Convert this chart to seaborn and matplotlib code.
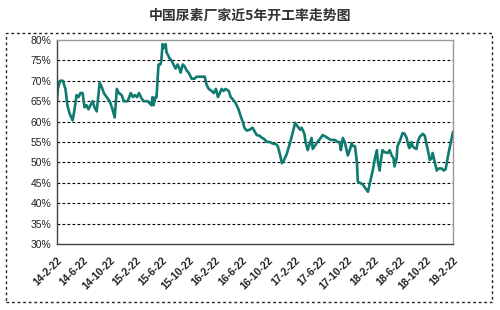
import matplotlib
matplotlib.use("Agg")
import matplotlib.pyplot as plt
import matplotlib.dates as mdates
from matplotlib.patches import Rectangle
from matplotlib.ticker import FixedLocator
import seaborn as sns
import pandas as pd

title = "中国尿素厂家近5年开工率走势图"

dates = [
    "2014-02-22", "2014-02-26", "2014-03-08", "2014-03-21", "2014-03-24", "2014-04-02", "2014-04-11",
    "2014-04-21", "2014-05-05", "2014-05-14", "2014-05-23", "2014-06-01", "2014-06-10", "2014-06-20",
    "2014-06-29", "2014-07-08", "2014-07-17", "2014-07-26", "2014-08-05", "2014-08-14", "2014-08-24",
    "2014-09-02", "2014-09-07", "2014-09-16", "2014-09-26", "2014-10-09", "2014-10-23", "2014-11-05",
    "2014-11-15", "2014-11-25", "2014-12-04", "2014-12-17", "2014-12-27", "2015-01-14", "2015-01-28",
    "2015-02-07", "2015-02-16", "2015-02-26", "2015-03-07", "2015-03-16", "2015-03-27", "2015-04-15",
    "2015-04-25", "2015-05-04", "2015-05-08", "2015-05-13", "2015-05-22", "2015-05-27", "2015-06-05",
    "2015-06-14", "2015-06-18", "2015-06-24", "2015-06-28", "2015-07-03", "2015-07-08", "2015-07-12",
    "2015-07-17", "2015-07-26", "2015-08-04", "2015-08-13", "2015-08-23", "2015-09-01", "2015-09-10",
    "2015-09-15", "2015-09-25", "2015-10-04", "2015-10-13", "2015-10-22", "2015-11-05", "2015-11-18",
    "2015-11-28", "2015-12-17", "2016-01-04", "2016-01-13", "2016-01-23", "2016-02-05", "2016-02-15",
    "2016-02-25", "2016-03-05", "2016-03-14", "2016-03-22", "2016-03-31", "2016-04-09", "2016-04-24",
    "2016-05-03", "2016-05-12", "2016-05-26", "2016-06-08", "2016-06-17", "2016-06-27", "2016-07-06",
    "2016-07-16", "2016-07-29", "2016-08-12", "2016-08-22", "2016-08-31", "2016-09-14", "2016-09-24",
    "2016-10-03", "2016-10-17", "2016-10-30", "2016-11-13", "2016-11-27", "2016-12-06", "2016-12-16",
    "2016-12-25", "2017-01-03", "2017-01-16", "2017-01-31", "2017-02-14", "2017-02-24", "2017-03-05",
    "2017-03-19", "2017-03-26", "2017-04-08", "2017-04-13", "2017-04-23", "2017-05-02", "2017-05-11",
    "2017-05-16", "2017-05-25", "2017-06-07", "2017-06-22", "2017-07-01", "2017-07-15", "2017-07-24",
    "2017-08-07", "2017-08-26", "2017-09-08", "2017-09-17", "2017-09-23", "2017-10-02", "2017-10-11",
    "2017-10-25", "2017-11-03", "2017-11-12", "2017-11-16", "2017-11-27", "2017-12-06", "2017-12-10",
    "2017-12-19", "2018-01-02", "2018-01-16", "2018-01-26", "2018-02-04", "2018-02-17", "2018-02-27",
    "2018-03-08", "2018-03-13", "2018-03-21", "2018-03-25", "2018-04-03", "2018-04-12", "2018-04-27",
    "2018-05-06", "2018-05-15", "2018-05-24", "2018-05-28", "2018-06-07", "2018-06-11", "2018-06-20",
    "2018-07-05", "2018-07-14", "2018-07-23", "2018-08-01", "2018-08-05", "2018-08-15", "2018-08-19",
    "2018-08-29", "2018-09-07", "2018-09-12", "2018-09-22", "2018-10-06", "2018-10-15", "2018-10-24",
    "2018-11-02", "2018-11-07", "2018-11-16", "2018-11-20", "2018-11-30", "2018-12-09", "2018-12-18",
    "2019-01-01", "2019-01-10", "2019-01-19", "2019-01-29", "2019-02-12", "2019-02-22",
]

rates = [
    65, 68, 70, 70, 69.5, 68, 64,
    62, 60.3, 63, 66.5, 66, 67, 67,
    63.5, 64, 63, 64, 65, 63.5, 62.5,
    67, 69.5, 68.5, 67, 66, 65, 63,
    61, 68, 67, 66.5, 65, 65, 67,
    66, 66.5, 66, 67, 66, 65, 65,
    64.5, 64, 66, 64, 66, 66, 74,
    74, 75, 79, 78, 78.5, 79, 77,
    76.5, 75.5, 75, 74, 73, 74, 73,
    72, 74, 73.5, 72.5, 72, 70.5, 70.5,
    71, 71, 71, 69, 68, 67.5, 67,
    68, 66, 67, 68, 67.5, 68, 67.5,
    66, 65.5, 64.5, 63, 61.5, 60, 58.4,
    57.8, 58, 58.5, 57.5, 56.7, 56.5, 56,
    55.8, 55, 55, 54.6, 54.5, 54, 52,
    49.8, 50.5, 52, 54.7, 57.5, 59.7, 59,
    58, 58.5, 57, 55, 53, 54.5, 56,
    53.3, 54, 55, 56, 56.7, 56.3, 56,
    55.5, 55.5, 55, 55, 53, 56, 55,
    51.7, 53, 54.7, 54, 54, 50, 45.3,
    45, 44.6, 43.5, 42.8, 45, 48, 51,
    53, 50, 48, 50, 53, 52.5, 52.3,
    53, 51.7, 51, 49, 51, 54, 55,
    57.2, 57, 56, 54, 53.5, 55, 54,
    53.5, 53.3, 55, 56.3, 57, 56.5, 54.3,
    52, 50.6, 51, 52.3, 50, 48, 48.5,
    48.5, 48, 48.3, 51.3, 55, 57.5,
]

tick_dates = [
    "2014-02-22", "2014-06-22", "2014-10-22", "2015-02-22", "2015-06-22", "2015-10-22",
    "2016-02-22", "2016-06-22", "2016-10-22", "2017-02-22", "2017-06-22", "2017-10-22",
    "2018-02-22", "2018-06-22", "2018-10-22", "2019-02-22",
]
tick_labels = [
    "14-2-22", "14-6-22", "14-10-22", "15-2-22", "15-6-22", "15-10-22",
    "16-2-22", "16-6-22", "16-10-22", "17-2-22", "17-6-22", "17-10-22",
    "18-2-22", "18-6-22", "18-10-22", "19-2-22",
]
y_ticks = [30, 35, 40, 45, 50, 55, 60, 65, 70, 75, 80]

sns.set_style("white")
plt.rcParams["font.family"] = ["Noto Sans CJK SC", "DejaVu Sans"]

df = pd.DataFrame({"date": pd.to_datetime(dates), "rate": rates})

fig = plt.figure(figsize=(5.0, 3.1), dpi=100)
fig.patch.set_facecolor("white")
ax = fig.add_axes([0.114, 0.213, 0.792, 0.658])

sns.lineplot(data=df, x="date", y="rate", ax=ax, color="#0f7a6f", linewidth=1.9)

ax.set_ylim(30, 80)
ax.set_xlim(pd.Timestamp(tick_dates[0]), pd.Timestamp(tick_dates[-1]))
ax.set_yticks(y_ticks)
ax.set_yticklabels([f"{v}%" for v in y_ticks], fontsize=7.5, family="Liberation Sans",
                   color="#222222")
tick_pos = mdates.date2num(pd.to_datetime(tick_dates))
ax.xaxis.set_major_locator(FixedLocator(tick_pos))
ax.set_xticklabels(tick_labels, rotation=45, ha="right", rotation_mode="anchor",
                   fontsize=7.5, fontweight="bold", family="Liberation Sans",
                   color="#222222")
ax.set_xlabel("")
ax.set_ylabel("")

for v in y_ticks[1:-1]:
    ax.axhline(v, color="black", linestyle=(0, (2.5, 2)), linewidth=0.8, zorder=0)

ax.tick_params(axis="x", direction="in", length=3, width=0.8, color="#555555", pad=8)
ax.tick_params(axis="y", length=0, pad=4)
for side in ["left", "bottom"]:
    ax.spines[side].set_color("#444444")
    ax.spines[side].set_linewidth(1.0)
for side in ["top", "right"]:
    ax.spines[side].set_color("#999999")
    ax.spines[side].set_linewidth(1.0)

fig.text(0.5, 0.95, title, ha="center", va="center", fontsize=10, fontweight="bold",
         color="#333333")

border = Rectangle((0.012, 0.026), 0.972, 0.866, transform=fig.transFigure, fill=False,
                   edgecolor="#222222", linewidth=1.0, linestyle=(0, (2, 2)))
fig.add_artist(border)
ax.set_zorder(2)

fig.savefig("out.png", dpi=100, facecolor="white")
